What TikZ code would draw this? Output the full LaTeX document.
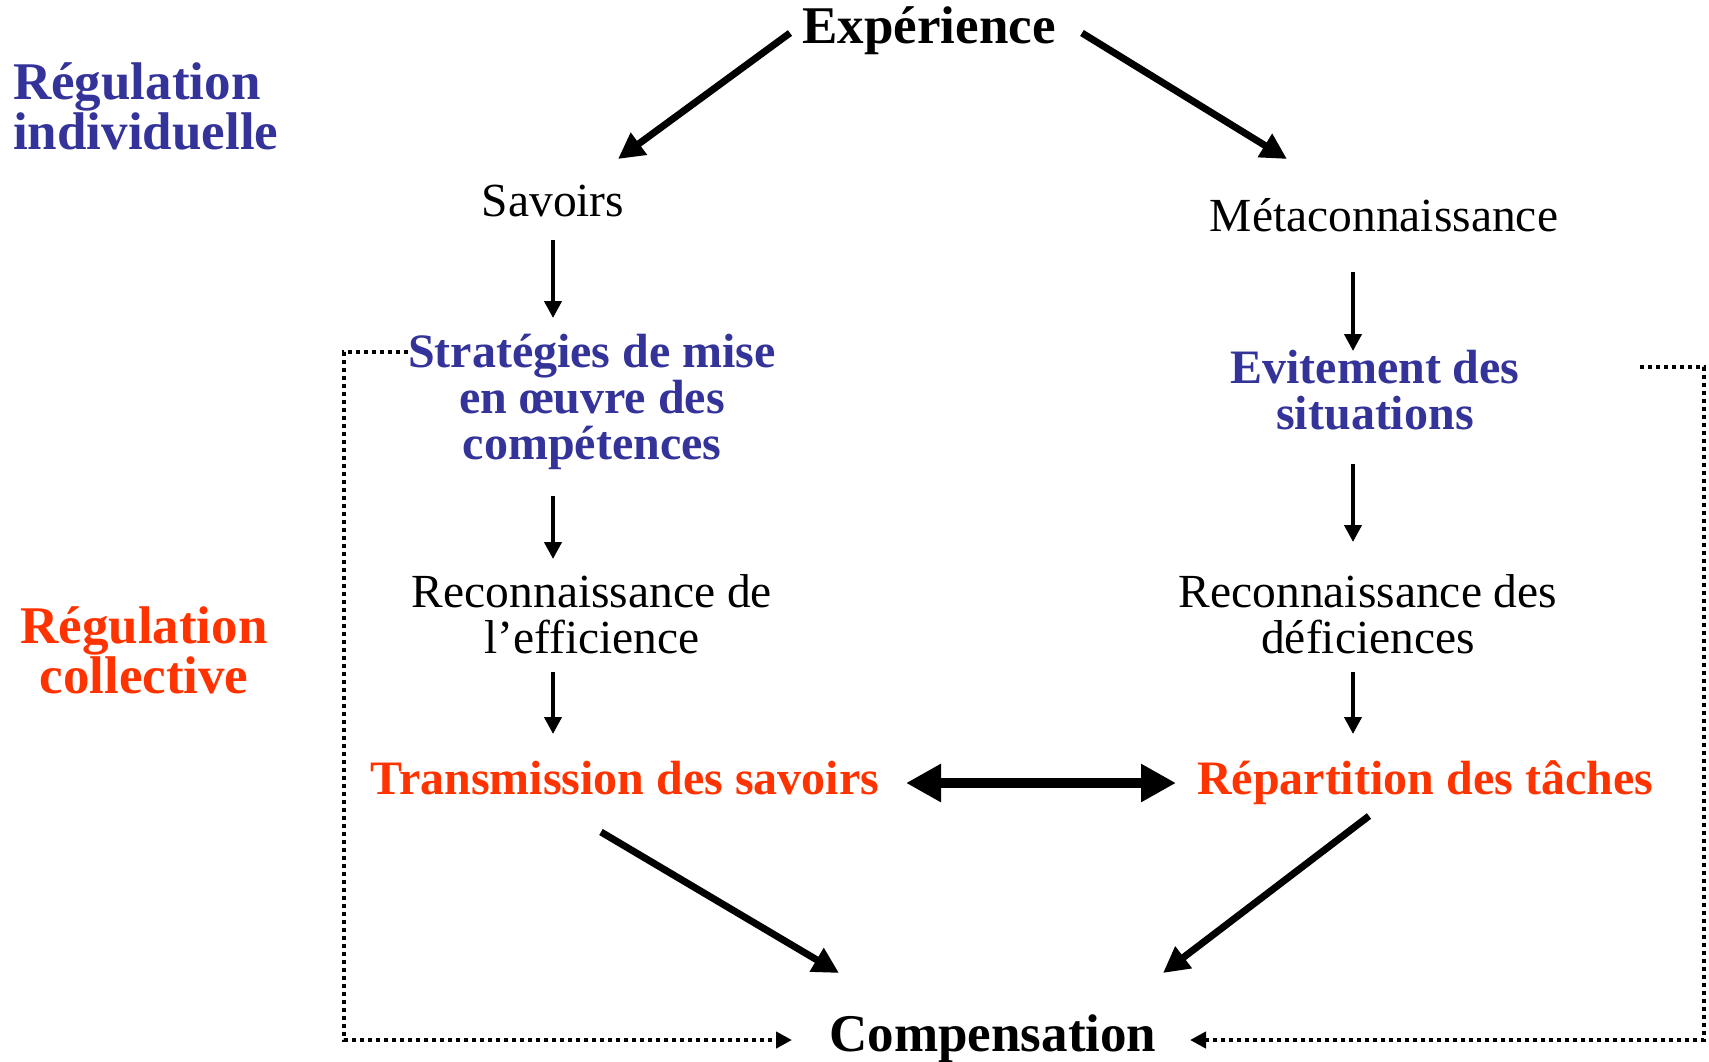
\documentclass[tikz,border=0pt]{standalone}
\usepackage{fontspec}
\setmainfont{Liberation Serif}
\usetikzlibrary{arrows.meta}
\definecolor{regblue}{RGB}{51,51,153}
\definecolor{regred}{RGB}{255,51,0}
\tikzset{
  big/.style={font=\fontsize{53}{50}\selectfont\bfseries, inner sep=0pt},
  plain/.style={font=\fontsize{47.5}{46}\selectfont, inner sep=0pt, align=center},
  bluebox/.style={font=\fontsize{48}{46}\selectfont\bfseries, text=regblue, inner sep=0pt, align=center},
  redbox/.style={font=\fontsize{48}{46}\selectfont\bfseries, text=regred, inner sep=0pt},
  diag/.style={line width=7pt, -{Triangle[length=26pt,width=26pt]}},
  vert/.style={line width=4pt, -{Triangle[length=17pt,width=17pt]}},
  dbl/.style={line width=10pt, {Triangle[length=35pt,width=36pt]}-{Triangle[length=35pt,width=36pt]}},
  dots/.style={line width=4pt, dash pattern=on 4pt off 4pt, -{Triangle[length=16pt,width=16pt]}}
}
\begin{document}
\begin{tikzpicture}[x=1pt,y=-1pt]
\useasboundingbox[fill=white] (0,0) rectangle (1709,1061);
% side labels
\node[big, text=regblue, anchor=west, align=left] (ri) at (13,106) {Régulation\\individuelle};
\node[big, text=regred, align=center] (rc) at (144,650) {Régulation\\collective};
% main nodes
\node[big, anchor=base] (exp) at (929,43) {Expérience};
\node[plain, anchor=base] (sav) at (553,216) {Savoirs};
\node[plain, anchor=base] (meta) at (1384,231) {Métaconnaissance};
\node[bluebox] (str) at (592,402) {Stratégies de mise\\en œuvre des\\compétences};
\node[bluebox] (evi) at (1375,390) {Evitement des\\situations};
\node[plain] (rec1) at (592,614) {Reconnaissance de\\l’efficience};
\node[plain] (rec2) at (1368,614) {Reconnaissance des\\déficiences};
\node[redbox, anchor=base] (trans) at (625,794) {Transmission des savoirs};
\node[redbox, anchor=base] (rep) at (1425,794) {Répartition des tâches};
\node[big, anchor=base] (comp) at (993,1051) {Compensation};
% connectors
\draw[diag] ([shift={(-139,-10)}]exp.base) -- ([shift={(65,-57)}]sav.base);
\draw[diag] ([shift={(153,-10)}]exp.base) -- ([shift={(-97,-72)}]meta.base);
\draw[vert] ([shift={(0,24)}]sav.base) -- ([shift={(-39,-84)}]str.center);
\draw[vert] ([shift={(-39,94)}]str.center) -- ([shift={(-39,-55)}]rec1.center);
\draw[vert] ([shift={(-39,58)}]rec1.center) -- ([shift={(-72,-60)}]trans.base);
\draw[vert] ([shift={(-31,41)}]meta.base) -- ([shift={(-22,-39)}]evi.center);
\draw[vert] ([shift={(-22,74)}]evi.center) -- ([shift={(-15,-72)}]rec2.center);
\draw[vert] ([shift={(-15,58)}]rec2.center) -- ([shift={(-72,-60)}]rep.base);
\draw[dbl] ([shift={(281,-11)}]trans.base) -- ([shift={(-249,-11)}]rep.base);
\draw[diag] ([shift={(-24,38)}]trans.base) -- ([shift={(-154,-78)}]comp.base);
\draw[diag] ([shift={(-56,22)}]rep.base) -- ([shift={(170,-78)}]comp.base);
\draw[dots] ([shift={(-184,-50)}]str.center) -- ++(-64,0) |- ([shift={(-201,-11)}]comp.base);
\draw[dots] ([shift={(265,-23)}]evi.center) -- ++(64,0) |- ([shift={(197,-11)}]comp.base);
\end{tikzpicture}
\end{document}
